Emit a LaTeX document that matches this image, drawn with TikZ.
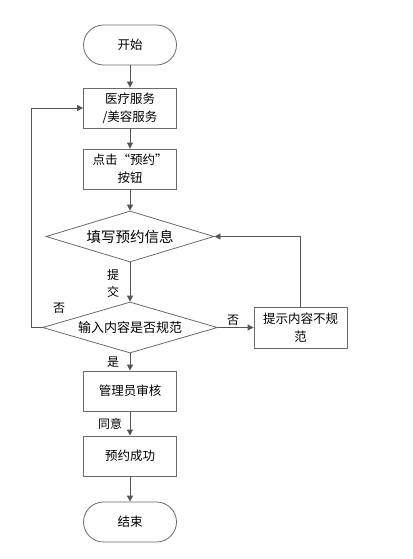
\documentclass[tikz,border=0pt]{standalone}
\usepackage{fontspec}
\setmainfont{Noto Sans CJK SC}
\usetikzlibrary{shapes.geometric,arrows.meta}
\definecolor{linegray}{HTML}{555555}
\definecolor{boxgray}{HTML}{6A6A6A}
\tikzset{
    procbox/.style={draw=boxgray, thick, rectangle, minimum width=93pt, minimum height=40pt,
        inner sep=1pt, align=center, font=\fontsize{12.5}{18}\selectfont},
    termbox/.style={procbox, rounded corners=20pt},
    decision/.style={draw=boxgray, thick, diamond, inner sep=0pt, aspect=3.3,
        minimum width=168pt, minimum height=51pt, font=\fontsize{13}{16}\selectfont},
    arr/.style={linegray, thick, -{Triangle[length=6pt,width=6pt]}},
    lbl/.style={font=\fontsize{12}{17}\selectfont, align=center, inner sep=0pt}
}
\begin{document}
\begin{tikzpicture}[x=1pt, y=-1pt]
    \useasboundingbox (0,0) rectangle (412,559);
    % main column
    \node[termbox] (start) at (130,45) {开始};
    \node[procbox] (service) at (130,108) {医疗服务\\/美容服务};
    \node[procbox] (click) at (130,169) {点击“预约”\\按钮};
    \node[decision, font=\fontsize{14.5}{16}\selectfont] (fill) at (130,236.5) {填写预约信息};
    \node[decision, minimum width=175pt] (check) at (130,327.5) {输入内容是否规范};
    \node[procbox, minimum height=41pt] (hint) at (300.5,327.5) {提示内容不规\\范};
    \node[procbox] (review) at (130,391) {管理员审核};
    \node[procbox] (success) at (130,456) {预约成功};
    \node[termbox] (stop) at (130,522) {结束};

    % connectors
    \draw[arr] (start) -- (service);
    \draw[arr] (service) -- (click);
    \draw[arr] (click) -- (fill);
    \draw[arr] (fill) -- (check);
    \draw[arr] (check) -- (review);
    \draw[arr] (review) -- (success);
    \draw[arr] (success) -- (stop);
    \draw[arr] (check.east) -- (hint.west);
    \draw[arr] (hint.north) |- (fill.east);
    \draw[arr] (check.west) -- ++(-11,0) |- (service.west);

    % labels
    \node[lbl] (submit) at (113,283) {提\\交};
    \node[lbl] (noleft) at (59,308) {否};
    \node[lbl] (noright) at (233,320) {否};
    \node[lbl] (yes) at (113,362) {是};
    \node[lbl] (agree) at (110,424) {同意};
\end{tikzpicture}
\end{document}
